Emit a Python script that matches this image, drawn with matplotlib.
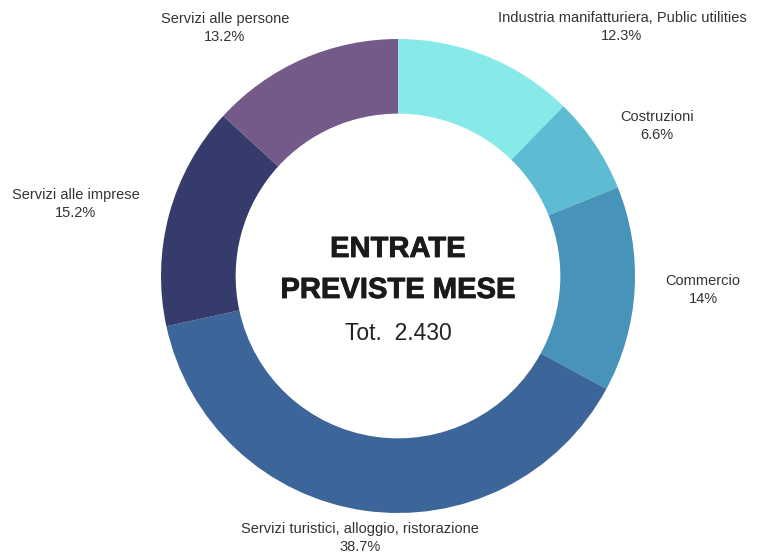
import matplotlib.pyplot as plt
import matplotlib.patheffects as pe

# dati
categorie = ["Industria manifatturiera, Public utilities", "Costruzioni", "Commercio",
             "Servizi turistici, alloggio, ristorazione", "Servizi alle imprese", "Servizi alle persone"]
percentuali = [12.3, 6.6, 14, 38.7, 15.2, 13.2]
colori = ["#88E9E9", "#5DBCD2", "#4893B9", "#3C6699", "#353C6B", "#735A88"]
totale = "2.430"

# posizioni delle etichette (pixel, origine in alto a sinistra)
pos_etichette = [(622, 27), (657, 126), (703, 290), (360, 538), (76, 204), (225, 28)]

W, H = 765, 556
fig = plt.figure(figsize=(W / 100, H / 100), dpi=100)
ax = fig.add_axes([0, 0, 1, 1])

cx, cy, r = 398, H - 276, 237
ax.pie(percentuali, colors=colori, startangle=90, counterclock=False,
       center=(cx, cy), radius=r, frame=True,
       wedgeprops=dict(width=r * 0.315, linewidth=0))
ax.set_xlim(0, W)
ax.set_ylim(0, H)
ax.set_aspect("equal")
ax.axis("off")

for cat, p, (x, y) in zip(categorie, percentuali, pos_etichette):
    testo = "%s\n%s%%" % (cat, ("%g" % p))
    ax.text(x, H - y, testo, ha="center", va="center", fontsize=10.5,
            family="Liberation Sans", color="#333333", linespacing=1.45)

spesso = [pe.withStroke(linewidth=0.6, foreground="#1a1a1a")]
ax.text(cx, H - 249, "ENTRATE", ha="center", va="center", fontsize=21,
        fontweight="bold", family="Liberation Sans", color="#1a1a1a", path_effects=spesso)
ax.text(cx, H - 290, "PREVISTE MESE", ha="center", va="center", fontsize=21,
        fontweight="bold", family="Liberation Sans", color="#1a1a1a", path_effects=spesso)
ax.text(cx, H - 333, "Tot.  " + totale, ha="center", va="center", fontsize=16.5,
        family="Liberation Sans", color="#222222")

fig.savefig("out.png", dpi=100, facecolor="white")
